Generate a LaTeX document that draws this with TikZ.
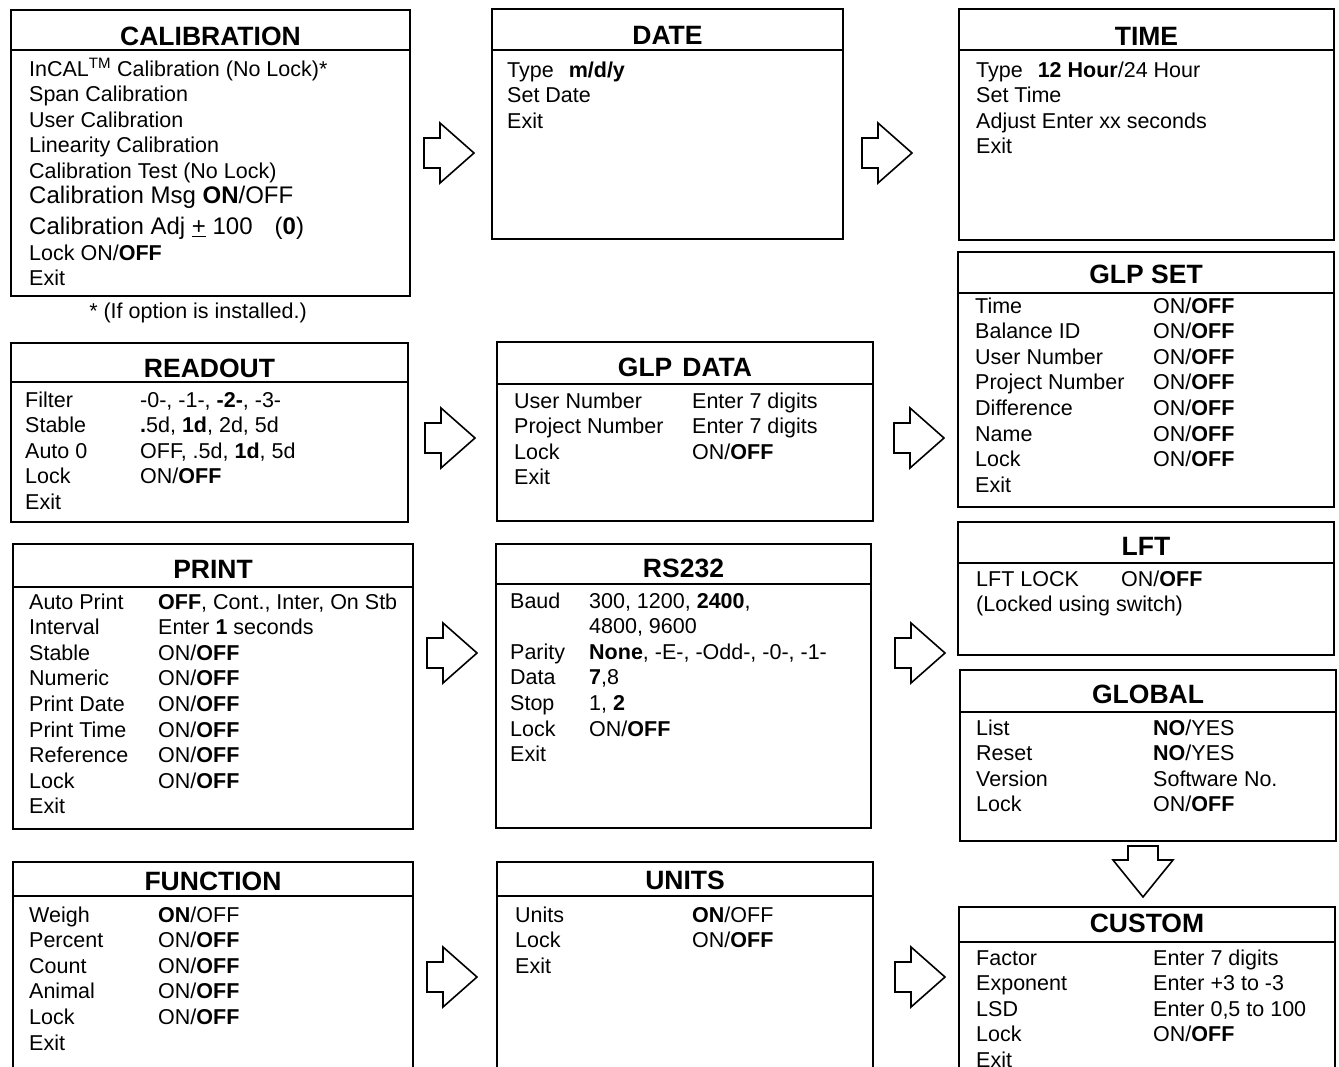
\documentclass[tikz,border=0pt]{standalone}
\usepackage{fontspec}
\setmainfont{Liberation Sans}
\usetikzlibrary{calc}

\newcommand{\onoff}{ON/\textbf{OFF}}
\newcommand{\ONoff}{\textbf{ON}/OFF}
% name, x1, y1, x2, y2, header line, title baseline, title
\newcommand{\menubox}[8]{%
  \node[menu, minimum width={(#4-#2)*1pt}, minimum height={(#5-#3)*1pt}] (#1) at ({(#2+#4)/2},{(#3+#5)/2}) {};
  \draw[menu line] (#1.west |- 0,#6) -- (#1.east |- 0,#6);
  \node[menu title] (#1-title) at ({(#2+#4)/2},#7) {#8};
}

\begin{document}
\begin{tikzpicture}[x=1pt, y=-1pt,
    menu/.style={draw, line width=2pt, inner sep=0pt, outer sep=0pt},
    menu line/.style={line width=2pt},
    menu title/.style={anchor=base, inner sep=0pt, font=\fontsize{26.5}{30}\selectfont\bfseries},
    menu rows/.style={anchor=base west, inner sep=0pt, font=\fontsize{21.5}{25.6}\selectfont},
    block arrow/.style={draw, line width=1.6pt, line join=miter, fill=white},
    rarrow/.pic={\draw[block arrow] (0,-15) -- (16,-15) -- (16,-30) -- (50,0) -- (16,30) -- (16,15) -- (0,15) -- cycle;},
    darrow/.pic={\draw[block arrow] (-15,0) -- (-15,14) -- (-30,14) -- (0,51) -- (30,14) -- (15,14) -- (15,0) -- cycle;}]
  \useasboundingbox (0,0) rectangle (1339,1066);
  \clip (0,0) rectangle (1339,1066);

  \menubox{cal}{11}{10}{410}{296}{50}{45}{CALIBRATION}
  \node[menu rows, font=\fontsize{21.5}{25.5}\selectfont] (cal-rows) at (29,76) {\begin{tabular}[t]{@{}l@{}}
    InCAL\textsuperscript{TM} Calibration (No Lock)*\\
    Span Calibration\\
    User Calibration\\
    Linearity Calibration\\
    Calibration Test (No Lock)\\
    {\fontsize{24}{28}\selectfont Calibration Msg \textbf{ON}/OFF}\\[5.5pt]
    {\fontsize{24}{28}\selectfont Calibration Adj \underline{+} 100\hspace{22pt}(\textbf{0})}\\
    Lock ON/\textbf{OFF}\\
    Exit
  \end{tabular}};
  \node[menu rows, anchor=base] (cal-note) at (198,318) {* (If option is installed.)};

  \menubox{date}{492}{9}{843}{239}{50}{44}{DATE}
  \node[menu rows] (date-rows) at (507,77) {\begin{tabular}[t]{@{}l@{}}
    Type\hspace{9pt} \textbf{m/d/y}\\
    Set Date\\
    Exit
  \end{tabular}};

  \menubox{time}{959}{9}{1334}{240}{50}{45}{TIME}
  \node[menu rows] (time-rows) at (976,77) {\begin{tabular}[t]{@{}l@{}}
    Type\hspace{9pt} \textbf{12 Hour}/24 Hour\\
    Set Time\\
    Adjust Enter xx seconds\\
    Exit
  \end{tabular}};

  \menubox{glpset}{958}{252}{1334}{507}{293}{283}{GLP SET}
  \node[menu rows] (glpset-rows) at (975,313) {\begin{tabular}[t]{@{}p{178pt}@{}l@{}}
    Time & \onoff\\
    Balance ID & \onoff\\
    User Number & \onoff\\
    Project Number & \onoff\\
    Difference & \onoff\\
    Name & \onoff\\
    Lock & \onoff\\
    Exit &
  \end{tabular}};

  \menubox{readout}{11}{343}{408}{522}{382}{377}{READOUT}
  \node[menu rows] (readout-rows) at (25,407) {\begin{tabular}[t]{@{}p{115pt}@{}l@{}}
    Filter & -0-, -1-, \textbf{-2-}, -3-\\
    Stable & \textbf{.}5d, \textbf{1d}, 2d, 5d\\
    Auto 0 & OFF, .5d, \textbf{1d}, 5d\\
    Lock & \onoff\\
    Exit &
  \end{tabular}};

  \menubox{glpdata}{497}{342}{873}{521}{384}{376}{GLP\hspace{10pt}DATA}
  \node[menu rows] (glpdata-rows) at (514,408) {\begin{tabular}[t]{@{}p{178pt}@{}l@{}}
    User Number & Enter 7 digits\\
    Project Number & Enter 7 digits\\
    Lock & \onoff\\
    Exit &
  \end{tabular}};

  \menubox{print}{13}{544}{413}{829}{587}{578}{PRINT}
  \node[menu rows] (print-rows) at (29,609) {\begin{tabular}[t]{@{}p{129pt}@{}l@{}}
    Auto Print & \textbf{OFF}, Cont., Inter, On Stb\\
    Interval & Enter \textbf{1} seconds\\
    Stable & \onoff\\
    Numeric & \onoff\\
    Print Date & \onoff\\
    Print Time & \onoff\\
    Reference & \onoff\\
    Lock & \onoff\\
    Exit &
  \end{tabular}};

  \menubox{rs232}{496}{544}{871}{828}{584}{577}{RS232}
  \node[menu rows] (rs232-rows) at (510,608) {\begin{tabular}[t]{@{}p{79pt}@{}l@{}}
    Baud & 300, 1200, \textbf{2400},\\
         & 4800, 9600\\
    Parity & \textbf{None}, -E-, -Odd-, -0-, -1-\\
    Data & \textbf{7},8\\
    Stop & 1, \textbf{2}\\
    Lock & \onoff\\
    Exit &
  \end{tabular}};

  \menubox{lft}{958}{522}{1334}{655}{563}{555}{LFT}
  \node[menu rows] (lft-rows) at (976,586) {\begin{tabular}[t]{@{}p{145pt}@{}l@{}}
    LFT LOCK & \onoff\\
    \multicolumn{2}{@{}l@{}}{(Locked using switch)}
  \end{tabular}};

  \menubox{global}{960}{670}{1336}{841}{712}{703}{GLOBAL}
  \node[menu rows] (global-rows) at (976,735) {\begin{tabular}[t]{@{}p{177pt}@{}l@{}}
    List & \textbf{NO}/YES\\
    Reset & \textbf{NO}/YES\\
    Version & Software No.\\
    Lock & \onoff
  \end{tabular}};

  \menubox{custom}{959}{907}{1335}{1090}{942}{932}{CUSTOM}
  \node[menu rows] (custom-rows) at (976,965) {\begin{tabular}[t]{@{}p{177pt}@{}l@{}}
    Factor & Enter 7 digits\\
    Exponent & Enter +3 to -3\\
    LSD & Enter 0,5 to 100\\
    Lock & \onoff\\
    Exit &
  \end{tabular}};

  \menubox{function}{13}{862}{413}{1090}{896}{890}{FUNCTION}
  \node[menu rows] (function-rows) at (29,922) {\begin{tabular}[t]{@{}p{129pt}@{}l@{}}
    Weigh & \ONoff\\
    Percent & \onoff\\
    Count & \onoff\\
    Animal & \onoff\\
    Lock & \onoff\\
    Exit &
  \end{tabular}};

  \menubox{units}{497}{862}{873}{1090}{896}{889}{UNITS}
  \node[menu rows] (units-rows) at (515,922) {\begin{tabular}[t]{@{}p{177pt}@{}l@{}}
    Units & \ONoff\\
    Lock & \onoff\\
    Exit &
  \end{tabular}};

  \pic at ($(cal.north east)+(14,143)$) {rarrow};
  \pic at ($(date.north east)+(19,144)$) {rarrow};
  \pic at ($(readout.north east)+(17,95)$) {rarrow};
  \pic at ($(glpdata.north east)+(21,96)$) {rarrow};
  \pic at ($(print.north east)+(14,109)$) {rarrow};
  \pic at ($(rs232.north east)+(24,109)$) {rarrow};
  \pic at ($(function.north east)+(14,115)$) {rarrow};
  \pic at ($(units.north east)+(22,115)$) {rarrow};
  \pic at ($(global.south)+(-5,5)$) {darrow};
\end{tikzpicture}
\end{document}
